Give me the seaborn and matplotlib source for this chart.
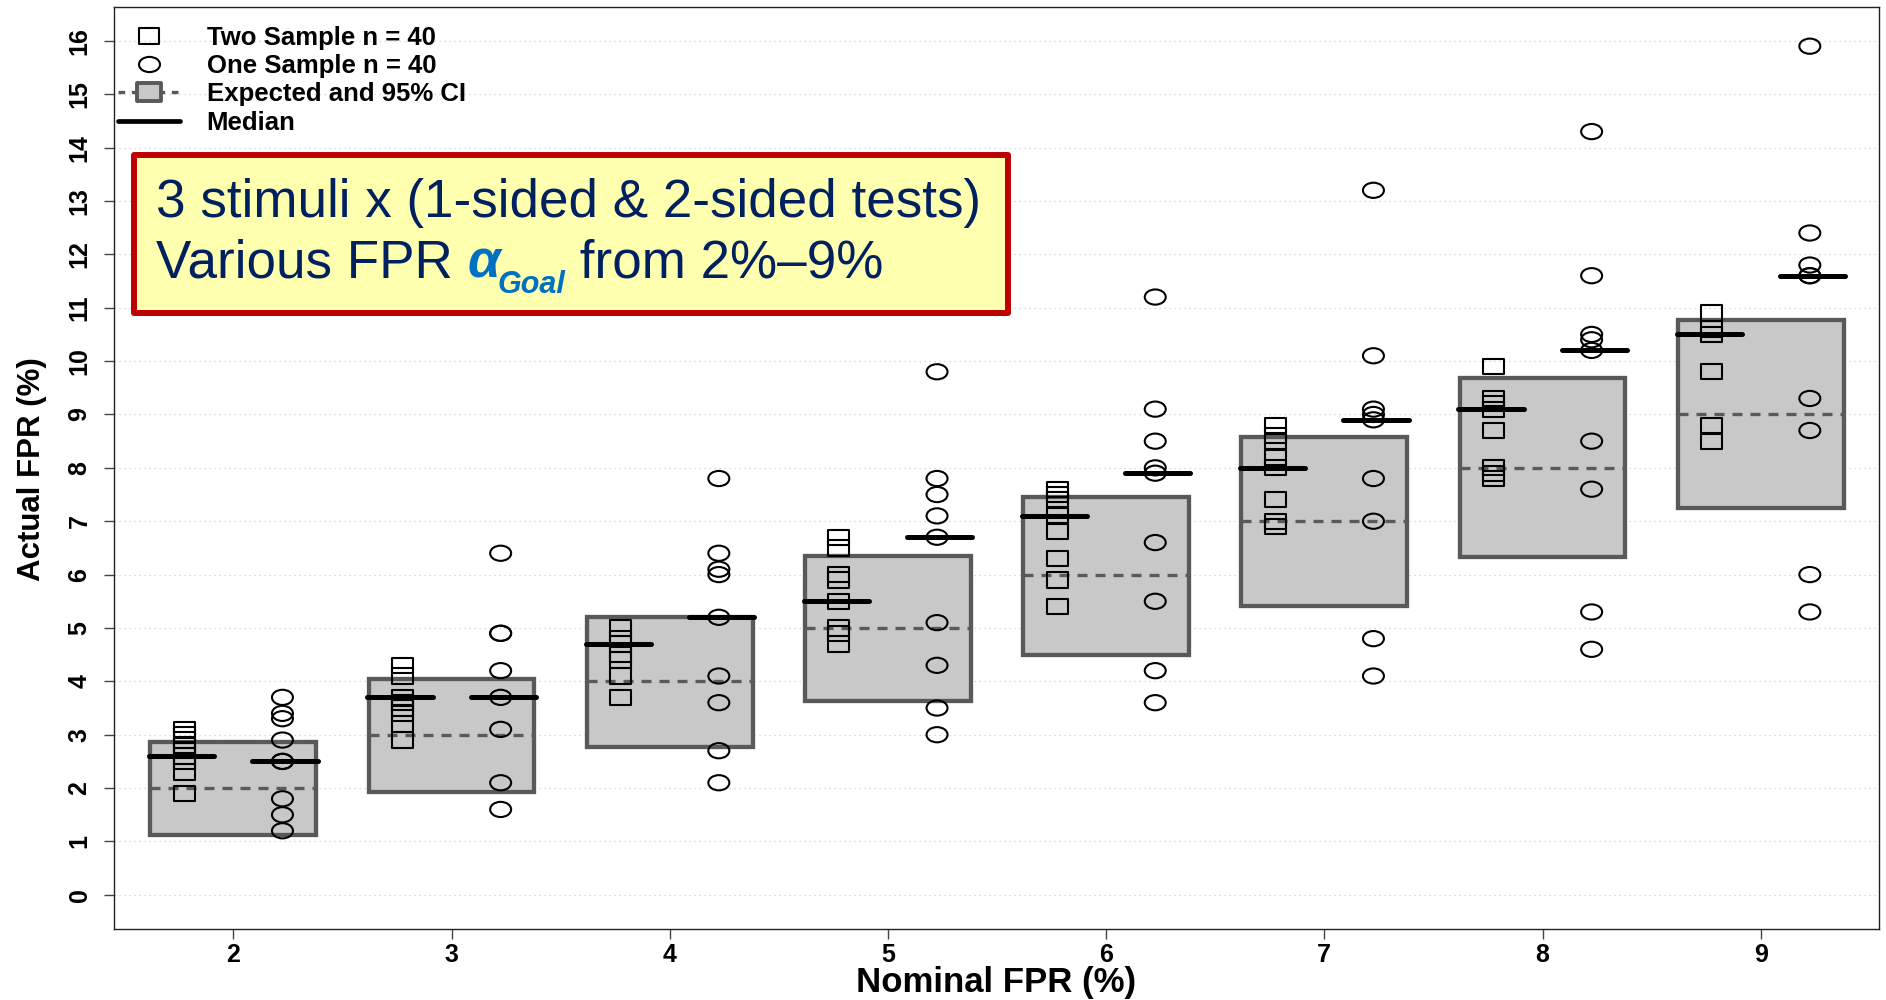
import numpy as np
import pandas as pd
import matplotlib
matplotlib.use("Agg")
import matplotlib.pyplot as plt
from matplotlib.path import Path
from matplotlib.transforms import Affine2D
from matplotlib.lines import Line2D
from matplotlib.patches import Rectangle
import seaborn as sns

# Nominal false-positive rates (%)
nominal = [2, 3, 4, 5, 6, 7, 8, 9]

# Observed FPR (%) for the two-sample design, one list per nominal level
two_2 = [3.1, 3.0, 2.9, 2.8, 2.7, 2.6, 2.5, 2.3, 1.9]
two_3 = [4.3, 4.1, 3.7, 3.6, 3.5, 3.4, 3.2, 2.9]
two_4 = [5.0, 4.8, 4.7, 4.5, 4.4, 4.1, 3.7]
two_5 = [6.7, 6.5, 6.0, 5.9, 5.5, 5.0, 4.9, 4.7]
two_6 = [7.6, 7.5, 7.4, 7.1, 6.8, 6.3, 5.9, 5.4]
two_7 = [8.8, 8.6, 8.5, 8.2, 8.0, 7.4, 7.0, 6.9]
two_8 = [9.9, 9.3, 9.2, 9.1, 8.7, 8.0, 7.9, 7.8]
two_9 = [10.9, 10.6, 10.5, 9.8, 8.8, 8.5]

# Observed FPR (%) for the one-sample design
one_2 = [3.7, 3.4, 3.3, 2.9, 2.5, 2.5, 1.8, 1.5, 1.2]
one_3 = [6.4, 4.9, 4.9, 4.2, 3.7, 3.1, 2.1, 1.6]
one_4 = [7.8, 6.4, 6.1, 6.0, 5.2, 4.1, 3.6, 2.7, 2.1]
one_5 = [9.8, 7.8, 7.5, 7.1, 6.7, 5.1, 4.3, 3.5, 3.0]
one_6 = [11.2, 9.1, 8.5, 8.0, 7.9, 6.6, 5.5, 4.2, 3.6]
one_7 = [13.2, 10.1, 9.1, 9.0, 8.9, 7.8, 7.0, 4.8, 4.1]
one_8 = [14.3, 11.6, 10.5, 10.4, 10.2, 8.5, 7.6, 5.3, 4.6]
one_9 = [15.9, 12.4, 11.8, 11.6, 11.6, 9.3, 8.7, 6.0, 5.3]

# Medians per nominal level
median_two = [2.6, 3.7, 4.7, 5.5, 7.1, 8.0, 9.1, 10.5]
median_one = [2.5, 3.7, 5.2, 6.7, 7.9, 8.9, 10.2, 11.6]

# 95% CI of the expected FPR
ci_low = [1.13, 1.92, 2.77, 3.63, 4.50, 5.41, 6.33, 7.24]
ci_high = [2.86, 4.04, 5.21, 6.34, 7.46, 8.57, 9.68, 10.77]

y_ticks = list(range(0, 17))

two_lists = [two_2, two_3, two_4, two_5, two_6, two_7, two_8, two_9]
one_lists = [one_2, one_3, one_4, one_5, one_6, one_7, one_8, one_9]

OFFSET = 0.225
BOX_HALF = 0.38

rows = []
for nom, vals in zip(nominal, two_lists):
    for v in vals:
        rows.append(dict(nominal=nom, fpr=v, design="two", xpos=nom - OFFSET))
for nom, vals in zip(nominal, one_lists):
    for v in vals:
        rows.append(dict(nominal=nom, fpr=v, design="one", xpos=nom + OFFSET))
df = pd.DataFrame(rows)

sns.set_theme(style="white")
plt.rcParams["font.family"] = ["Liberation Sans", "DejaVu Sans"]
plt.rcParams["text.color"] = "black"
plt.rcParams["axes.labelcolor"] = "black"
plt.rcParams["xtick.color"] = "black"
plt.rcParams["ytick.color"] = "black"

# Markers are drawn wider than tall
STRETCH = 1.38
square_path = Path.unit_rectangle().transformed(
    Affine2D().translate(-0.5, -0.5).scale(STRETCH, 1.0))
ellipse_path = Path.unit_circle().transformed(Affine2D().scale(STRETCH, 1.0))

fig = plt.figure(figsize=(18.86, 10), dpi=100)
ax = fig.add_axes([114 / 1886, 71 / 1000, 1765 / 1886, 922.3 / 1000])

nom_arr = np.array(nominal, dtype=float)

# CI boxes
ax.bar(nom_arr, np.subtract(ci_high, ci_low), bottom=ci_low, width=2 * BOX_HALF,
       color="#c8c8c8", edgecolor="#595959", linewidth=3.1, zorder=2)

# Expected value (dashed)
ax.hlines(nom_arr, nom_arr - BOX_HALF, nom_arr + BOX_HALF, colors="#5a5a5a",
          linestyles=(0, (3.0, 2.4)), linewidth=2.4, zorder=3)

# Points
sns.scatterplot(data=df[df.design == "two"], x="xpos", y="fpr", marker=square_path,
                s=228, facecolor="none", edgecolor="black", linewidth=1.5,
                legend=False, ax=ax, zorder=4)
sns.scatterplot(data=df[df.design == "one"], x="xpos", y="fpr", marker=ellipse_path,
                s=228, facecolor="none", edgecolor="black", linewidth=1.5,
                legend=False, ax=ax, zorder=4)

# Medians
m1 = ax.hlines(median_two, nom_arr - 0.386, nom_arr - 0.087, colors="black",
               linewidth=3.6, zorder=5)
m2 = ax.hlines(median_one, nom_arr + 0.087, nom_arr + 0.386, colors="black",
               linewidth=3.6, zorder=5)
m1.set_capstyle("round")
m2.set_capstyle("round")

ax.set_xlim(1.453, 9.542)
ax.set_ylim(-0.64, 16.64)
ax.set_xticks(nominal)
ax.set_xticklabels([str(n) for n in nominal])
ax.set_yticks(y_ticks)
ax.set_yticklabels([str(t) for t in y_ticks])
ax.yaxis.grid(True, linestyle=(0, (1, 3)), color="#cfcfcf", linewidth=0.9)
ax.xaxis.grid(False)
ax.set_axisbelow(True)

for sp in ax.spines.values():
    sp.set_color("#222222")
    sp.set_linewidth(1.0)

ax.tick_params(axis="both", which="major", direction="out", length=7.2, width=1,
               color="#444444", labelsize=18, labelcolor="black", bottom=True, left=True)
ax.tick_params(axis="y", labelrotation=90, pad=9)
ax.tick_params(axis="x", pad=3)
for lab in ax.get_xticklabels() + ax.get_yticklabels():
    lab.set_fontweight("bold")
for lab in ax.get_yticklabels():
    lab.set_va("center")

ax.set_xlabel("Nominal FPR (%)", fontsize=25, fontweight="bold", color="black")
ax.set_ylabel("Actual FPR (%)", fontsize=22.5, fontweight="bold", color="black")
ax.xaxis.set_label_coords(0.5, -0.0585)
ax.xaxis.label.set_va("center")
ax.yaxis.set_label_coords(-0.0462, 0.4988)
ax.yaxis.label.set_va("center")

# Legend
handles = [
    Line2D([], [], ls="none", marker=square_path, ms=15.1, mfc="none",
           mec="black", mew=1.5),
    Line2D([], [], ls="none", marker=ellipse_path, ms=15.1, mfc="none",
           mec="black", mew=1.5),
    Line2D([], [], ls=(0, (2, 2)), color="#595959", lw=2.4, marker=square_path,
           ms=17, mfc="#c8c8c8", mec="#595959", mew=2.8),
    Line2D([], [], color="black", lw=3.4),
]
labels = ["Two Sample n = 40", "One Sample n = 40", "Expected and 95% CI", "Median"]
leg = ax.legend(handles, labels, loc="upper left",
                bbox_to_anchor=(118 / 1886, 1 - 25.5 / 1000),
                bbox_transform=fig.transFigure, frameon=False,
                prop=dict(weight="bold", size=18.5), handlelength=2.4, handletextpad=1.05,
                labelspacing=0.17, borderpad=0, borderaxespad=0)
for txt in leg.get_texts():
    txt.set_color("black")

# Callout box
ax.add_patch(Rectangle((134 / 1886, 1 - 313 / 1000), 874 / 1886, 158 / 1000,
                       transform=fig.transFigure, clip_on=False, facecolor="#ffffb0",
                       edgecolor="#c00000", linewidth=4.3, joinstyle="round", zorder=10))
navy = "#002060"
ax.text(155.7 / 1886, 1 - 216.7 / 1000, "3 stimuli x (1-sided & 2-sided tests)",
        transform=fig.transFigure, fontsize=38.2, color=navy, va="baseline", ha="left",
        zorder=11)
t2 = ax.text(155.7 / 1886, 1 - 278 / 1000, "Various FPR ", transform=fig.transFigure,
             fontsize=38.2, color=navy, va="baseline", ha="left", zorder=11)
a1 = ax.annotate("α", xy=(1, 0), xycoords=t2, va="bottom", ha="left", fontsize=38.2,
                 color="#0070c0", fontweight="bold", fontstyle="italic", zorder=11)
a2 = ax.annotate("Goal", xy=(1, 0), xycoords=a1, xytext=(-2, -7.6),
                 textcoords="offset points", va="bottom", ha="left", fontsize=22,
                 color="#0070c0", fontweight="bold", fontstyle="italic", zorder=11)
ax.annotate(" from 2%–9%", xy=(1, 0), xycoords=(a2, t2), va="bottom", ha="left",
            fontsize=38.2, color=navy, zorder=11)

fig.savefig("out.png", dpi=100)
